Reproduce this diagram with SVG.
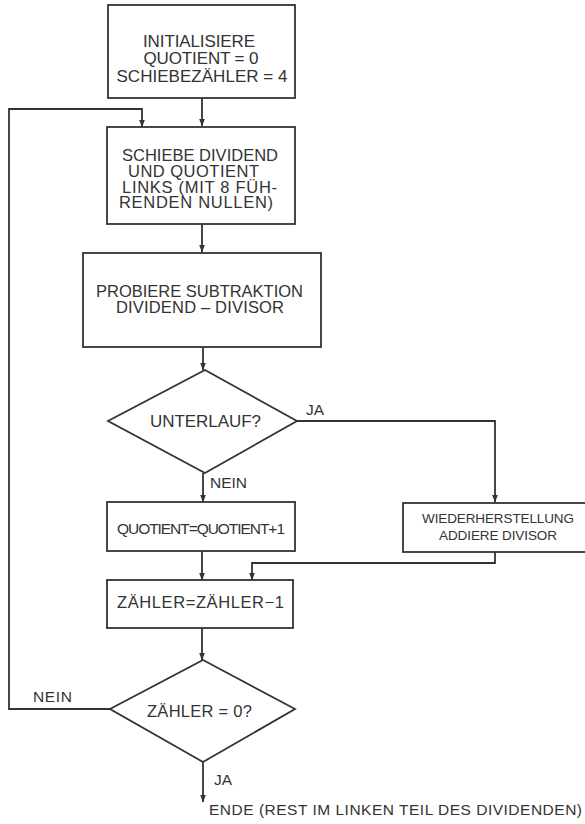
<svg xmlns="http://www.w3.org/2000/svg" width="585" height="824" viewBox="0 0 585 824">
<style>
.box{fill:#fff;stroke:#333;stroke-width:1.8}
.ln{fill:none;stroke:#333;stroke-width:1.8}
text{font-family:"Liberation Sans",Arial,sans-serif;fill:#333;text-anchor:middle}
.s13{font-size:13.5px}
.s15{font-size:15.5px}
.s16{font-size:16.5px}
.s17{font-size:17px}
.lbl{font-size:15.5px;text-anchor:start}
</style>
<defs>
<marker id="ah" markerWidth="8" markerHeight="6" refX="7.5" refY="3" orient="auto" markerUnits="userSpaceOnUse">
<path d="M0,0 L8,3 L0,6 z" fill="#333"/>
</marker>
</defs>
<rect width="585" height="824" fill="#fff"/>
<g id="connectors">
<path class="ln" d="M202,98 V126" marker-end="url(#ah)"/>
<path class="ln" d="M202,224 V252" marker-end="url(#ah)"/>
<path class="ln" d="M203,347 V370" marker-end="url(#ah)"/>
<path class="ln" d="M203,473 V502" marker-end="url(#ah)"/>
<path class="ln" d="M297,421 H495 V502" marker-end="url(#ah)"/>
<path class="ln" d="M202,551 V580" marker-end="url(#ah)"/>
<path class="ln" d="M495,552 V563 H252 V580" marker-end="url(#ah)"/>
<path class="ln" d="M202,628 V660" marker-end="url(#ah)"/>
<path class="ln" d="M110,709 H9 V109 H142 V127" marker-end="url(#ah)"/>
<path class="ln" d="M203,762 V802" marker-end="url(#ah)"/>
<text class="lbl" x="306" y="415">JA</text>
<text class="lbl" x="210" y="488" textLength="37">NEIN</text>
<text class="lbl" x="33" y="702" textLength="39">NEIN</text>
<text class="lbl" x="214" y="785">JA</text>
</g>
<g id="n1">
<rect class="box" x="108" y="5" width="187" height="93"/>
<text class="s17" x="199" y="47" textLength="112">INITIALISIERE</text>
<text class="s17" x="201" y="64" textLength="115">QUOTIENT = 0</text>
<text class="s17" x="202" y="81.5" textLength="171">SCHIEBEZÄHLER = 4</text>
</g>
<g id="n2">
<rect class="box" x="107" y="127" width="188" height="97"/>
<text class="s16" x="200" y="161" textLength="156">SCHIEBE DIVIDEND</text>
<text class="s16" x="193.5" y="176.5" textLength="131">UND QUOTIENT</text>
<text class="s16" x="199.5" y="192.5" textLength="155">LINKS (MIT 8 FÜH-</text>
<text class="s16" x="196" y="207.5" textLength="154">RENDEN NULLEN)</text>
</g>
<g id="n3">
<rect class="box" x="83" y="253" width="238" height="94"/>
<text class="s16" x="199.5" y="297" textLength="207">PROBIERE SUBTRAKTION</text>
<text class="s16" x="200" y="313" textLength="168">DIVIDEND – DIVISOR</text>
</g>
<g id="d1">
<polygon class="box" points="205,370 297,421 205,473 108,421"/>
<text class="s17" x="205.5" y="427" textLength="111">UNTERLAUF?</text>
</g>
<g id="n4">
<rect class="box" x="107" y="502" width="188" height="49"/>
<text class="s15" x="201" y="534" textLength="168">QUOTIENT=QUOTIENT+1</text>
</g>
<g id="n5">
<rect class="box" x="403" y="503" width="190" height="49"/>
<text class="s13" x="498" y="523" textLength="152">WIEDERHERSTELLUNG</text>
<text class="s13" x="498" y="540" textLength="118">ADDIERE DIVISOR</text>
</g>
<g id="n6">
<rect class="box" x="107" y="580" width="186" height="48"/>
<text class="s16" x="200.5" y="608" textLength="167">ZÄHLER=ZÄHLER−1</text>
</g>
<g id="d2">
<polygon class="box" points="203,660 295,709 203,762 110,709"/>
<text class="s16" x="199.5" y="717" textLength="105">ZÄHLER = 0?</text>
</g>
<g id="end">
<text class="s15" x="395.5" y="815" textLength="373">ENDE (REST IM LINKEN TEIL DES DIVIDENDEN)</text>
</g>
</svg>
